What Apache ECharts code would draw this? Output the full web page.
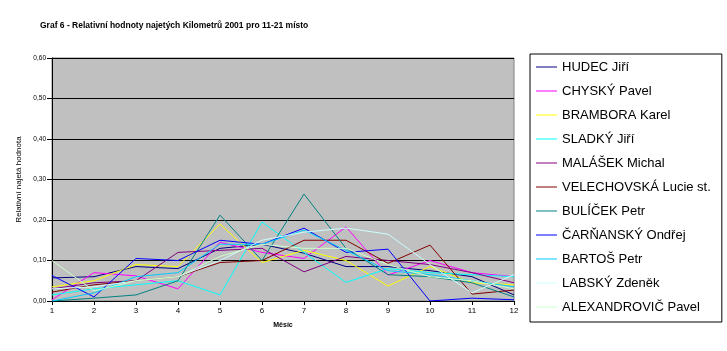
<!DOCTYPE html>
<html>
<head>
<meta charset="utf-8">
<script src="https://cdn.jsdelivr.net/npm/echarts@6/dist/echarts.min.js"></script>
<style>
  html, body { margin: 0; padding: 0; background: #fff; }
  #chart { width: 727px; height: 351px; }
</style>
</head>
<body>
<div id="chart"></div>
<script>
var months = ['1', '2', '3', '4', '5', '6', '7', '8', '9', '10', '11', '12'];
var yTicks = [0, 0.1, 0.2, 0.3, 0.4, 0.5, 0.6];

var names = ['HUDEC Jiří', 'CHYSKÝ Pavel', 'BRAMBORA Karel', 'SLADKÝ Jiří', 'MALÁŠEK Michal',
    'VELECHOVSKÁ Lucie st.', 'BULÍČEK Petr', 'ČARŇANSKÝ Ondřej', 'BARTOŠ Petr',
    'LABSKÝ Zdeněk', 'ALEXANDROVIČ Pavel'];

var hudec       = [0.057, 0.060, 0.085, 0.080, 0.130, 0.140, 0.118, 0.085, 0.085, 0.075, 0.060, 0.015];
var chysky      = [0.003, 0.070, 0.062, 0.030, 0.145, 0.120, 0.105, 0.183, 0.064, 0.100, 0.070, 0.060];
var brambora    = [0.035, 0.050, 0.090, 0.085, 0.190, 0.095, 0.125, 0.100, 0.037, 0.085, 0.045, 0.040];
var sladky      = [0.015, 0.030, 0.040, 0.050, 0.015, 0.195, 0.120, 0.046, 0.080, 0.070, 0.065, 0.060];
var malasek     = [0.030, 0.045, 0.050, 0.120, 0.125, 0.130, 0.072, 0.110, 0.100, 0.090, 0.070, 0.045];
var velechovska = [0.022, 0.040, 0.050, 0.060, 0.095, 0.100, 0.150, 0.150, 0.093, 0.138, 0.017, 0.027];
var bulicek     = [0.000, 0.007, 0.015, 0.050, 0.212, 0.100, 0.264, 0.130, 0.065, 0.060, 0.045, 0.010];
var carnansky   = [0.063, 0.010, 0.105, 0.100, 0.150, 0.140, 0.180, 0.120, 0.128, 0.000, 0.007, 0.003];
var bartos      = [0.000, 0.020, 0.060, 0.070, 0.140, 0.140, 0.175, 0.125, 0.075, 0.065, 0.050, 0.035];
var labsky      = [0.030, 0.035, 0.050, 0.060, 0.100, 0.150, 0.170, 0.180, 0.165, 0.090, 0.020, 0.065];
var alexandrovic = [0.100, 0.025, 0.050, 0.060, 0.110, 0.140, 0.130, 0.130, 0.090, 0.060, 0.050, 0.030];

var values = [hudec, chysky, brambora, sladky, malasek, velechovska, bulicek, carnansky, bartos, labsky, alexandrovic];
var colors = ['#000080', '#FF00FF', '#FFFF00', '#00FFFF', '#800080', '#800000',
    '#008080', '#0000FF', '#00CCFF', '#CCFFFF', '#CCFFCC'];

var series = names.map(function (n, i) {
    return {
        name: n,
        type: 'line',
        data: values[i],
        symbol: 'none',
        lineStyle: { width: 1, color: colors[i] },
        itemStyle: { color: colors[i] }
    };
});

var myChart = echarts.init(document.getElementById('chart'));
var option = {
    animation: false,
    textStyle: { fontFamily: 'Liberation Sans, Arial, sans-serif' },
    title: {
        text: 'Graf 6 - Relativní hodnoty najetých Kilometrů 2001 pro 11-21 místo',
        left: 35,
        top: 16,
        textStyle: { fontFamily: 'Liberation Sans, Arial', fontSize: 8.5, fontWeight: 'bold', color: '#000' }
    },
    color: colors,
    legend: {
        orient: 'vertical',
        left: 530,
        top: 54,
        padding: [6, 11, 8, 6],
        itemGap: 10,
        itemWidth: 21,
        itemHeight: 1,
        icon: 'rect',
        backgroundColor: '#fff',
        borderColor: '#000',
        borderWidth: 1,
        borderRadius: 0,
        textStyle: { fontSize: 13, color: '#000', lineHeight: 14, padding: [0, 0, 0, 0] },
        data: names
    },
    grid: {
        left: 52,
        right: 213,
        top: 58,
        bottom: 50,
        show: true,
        backgroundColor: '#C0C0C0',
        borderColor: '#808080',
        borderWidth: 1
    },
    xAxis: {
        type: 'category',
        data: months,
        boundaryGap: false,
        name: 'Měsíc',
        nameLocation: 'middle',
        nameGap: 21,
        nameTextStyle: { fontSize: 7, fontWeight: 'bold', color: '#000' },
        axisLine: { lineStyle: { color: '#000', width: 1 } },
        axisTick: { show: true, length: 4, lineStyle: { color: '#000' } },
        axisLabel: { fontSize: 8, color: '#000', margin: 6 },
        splitLine: { show: false }
    },
    yAxis: {
        type: 'value',
        min: yTicks[0],
        max: yTicks[yTicks.length - 1],
        interval: 0.1,
        name: 'Relativní najetá hodnota',
        nameLocation: 'middle',
        nameGap: 27,
        nameTextStyle: { fontSize: 8, color: '#000' },
        axisLine: { show: true, lineStyle: { color: '#000', width: 1 } },
        axisTick: { show: true, length: 5, lineStyle: { color: '#000' } },
        axisLabel: {
            fontSize: 6.5, color: '#000', margin: 6,
            formatter: function (v) { return v.toFixed(2).replace('.', ','); }
        },
        splitLine: { show: true, lineStyle: { color: '#000', width: 1 } }
    },
    series: series
};
myChart.setOption(option);
</script>
</body>
</html>
